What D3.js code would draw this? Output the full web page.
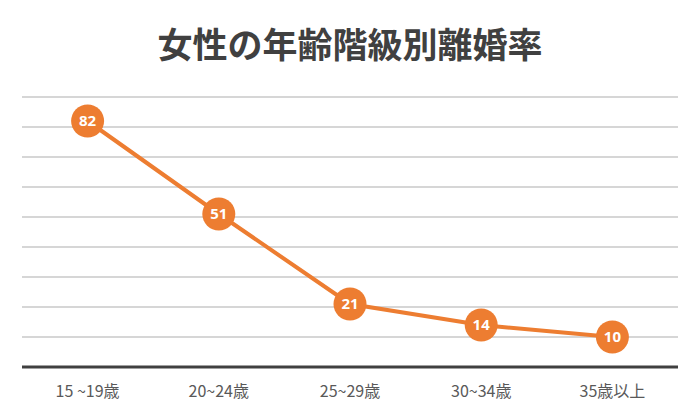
<!DOCTYPE html>
<html>
<head>
<meta charset="utf-8">
<script src="https://cdn.jsdelivr.net/npm/d3@7"></script>
<style>
  body { margin: 0; background: #fff; }
  svg { display: block; font-family: "Noto Sans CJK JP", "Noto Sans", sans-serif; }
</style>
</head>
<body>
<div id="chart"></div>
<script>
  const TITLE = "女性の年齢階級別離婚率";
  const categories = ["15 ~19歳", "20~24歳", "25~29歳", "30~34歳", "35歳以上"];
  const rates = [82, 51, 21, 14, 10];
  const yTicks = [10, 20, 30, 40, 50, 60, 70, 80, 90];

  const W = 700, H = 420;
  const margin = { top: 97, right: 22, bottom: 53, left: 22 };
  const width = W - margin.left - margin.right;
  const height = H - margin.top - margin.bottom;

  const svg = d3.select("#chart")
    .append("svg")
    .attr("width", W)
    .attr("height", H);

  svg.append("text")
    .attr("x", W / 2)
    .attr("y", 58)
    .attr("text-anchor", "middle")
    .style("font-size", "35px")
    .style("font-weight", "bold")
    .style("fill", "#404040")
    .text(TITLE);

  const g = svg.append("g")
    .attr("transform", `translate(${margin.left}, ${margin.top})`);

  const x = d3.scaleBand().domain(categories).range([0, width]);
  const y = d3.scaleLinear().domain([0, 90]).range([height, 0]);

  // gridlines
  g.selectAll("line.grid")
    .data(yTicks)
    .join("line")
    .attr("class", "grid")
    .attr("x1", 0)
    .attr("x2", width)
    .attr("y1", (d) => y(d))
    .attr("y2", (d) => y(d))
    .style("stroke", "#c8c8c8")
    .style("stroke-width", 1.5);

  // x axis
  const xAxis = g.append("g")
    .attr("transform", `translate(0, ${height})`)
    .call(d3.axisBottom(x).tickSize(0).tickPadding(19));
  xAxis.select(".domain")
    .attr("d", `M0,0H${width}`)
    .style("stroke", "#404040")
    .style("stroke-width", 3);
  xAxis.selectAll("text")
    .style("font-size", "16px")
    .style("fill", "#595959")
    .style("font-family", "'Noto Sans CJK JP', sans-serif");

  const cx = (d, i) => x(categories[i]) + x.bandwidth() / 2;

  const line = d3.line()
    .x((d, i) => cx(d, i))
    .y((d) => y(d));

  g.append("path")
    .datum(rates)
    .attr("d", line)
    .style("fill", "none")
    .style("stroke", "#ED7D31")
    .style("stroke-width", 4);

  g.selectAll("circle.pt")
    .data(rates)
    .join("circle")
    .attr("class", "pt")
    .attr("cx", cx)
    .attr("cy", (d) => y(d))
    .attr("r", 16.5)
    .style("fill", "#ED7D31");

  g.selectAll("text.lbl")
    .data(rates)
    .join("text")
    .attr("class", "lbl")
    .attr("x", cx)
    .attr("y", (d) => y(d))
    .attr("dy", "0.36em")
    .attr("text-anchor", "middle")
    .style("font-size", "15px")
    .style("font-weight", "bold")
    .style("fill", "#fff")
    .style("font-family", "'Open Sans', 'Noto Sans', sans-serif")
    .text((d) => d);
</script>
</body>
</html>
